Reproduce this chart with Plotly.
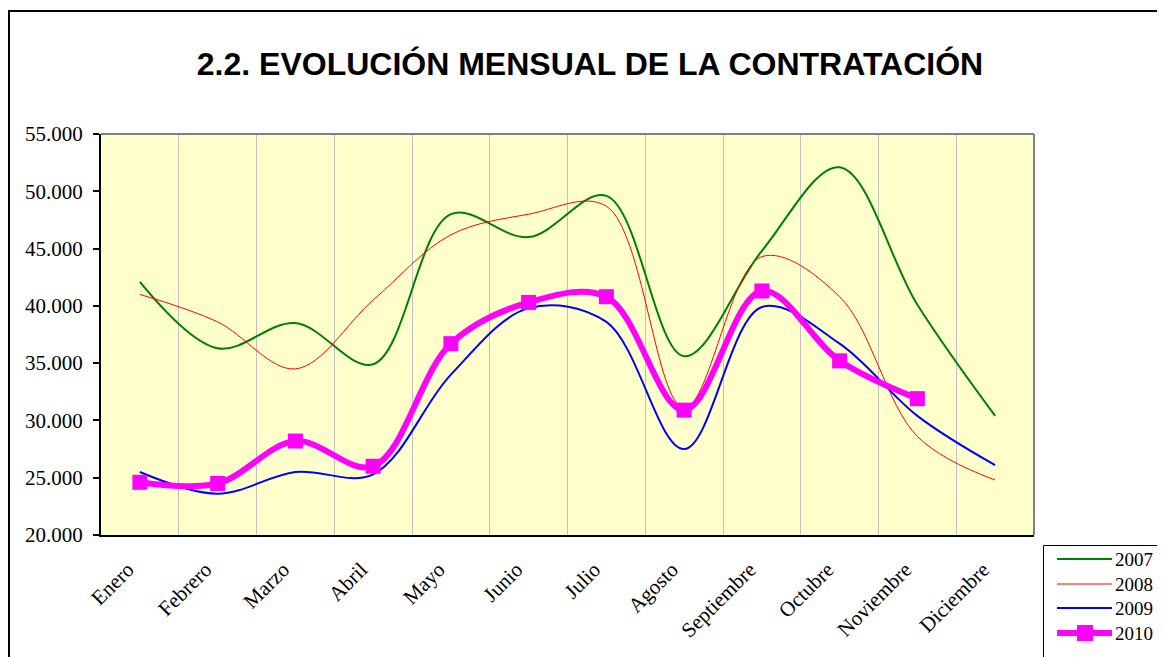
import plotly.graph_objects as go

months = ["Enero", "Febrero", "Marzo", "Abril", "Mayo", "Junio", "Julio",
          "Agosto", "Septiembre", "Octubre", "Noviembre", "Diciembre"]
y2007 = [42100, 36300, 38500, 34900, 48000, 46000, 49600, 35600, 44800, 52100, 40100, 30400]
y2008 = [41000, 38600, 34500, 40500, 46200, 48000, 48700, 31100, 44300, 40800, 28600, 24800]
y2009 = [25500, 23600, 25500, 25300, 34000, 39800, 38600, 27500, 39900, 36700, 30400, 26100]
y2010 = [24600, 24500, 28200, 26000, 36700, 40300, 40800, 30900, 41300, 35200, 31900]
series_names = ["2007", "2008", "2009", "2010"]
series_colors = ["#008000", "#FF0000", "#0000FF", "#FF00FF"]
series_widths = [2, 1, 2, 6]

fig = go.Figure()
for name, ys, col, w in zip(series_names, [y2007, y2008, y2009, y2010], series_colors, series_widths):
    is_2010 = name == "2010"
    fig.add_trace(go.Scatter(
        x=months[:len(ys)], y=ys, name=name,
        mode="lines+markers" if is_2010 else "lines",
        line=dict(color=col, width=w, shape="spline", smoothing=1),
        marker=dict(symbol="square", size=15, color=col) if is_2010 else None,
        showlegend=False))

OFF = 8  # page body margin
W, H = 1165 - OFF, 657 - OFF
L, T = 101 - OFF, 134 - OFF
R = W - (1034 - OFF)
B = H - (535 - OFF)
pw, ph = W - L - R, H - T - B


def px_x(x):
    return (x - OFF - L) / pw


def px_y(y):
    return (H - B - (y - OFF)) / ph


serif = "Liberation Serif, Times New Roman, serif"

shapes = [
    dict(type="line", xref="paper", yref="paper", x0=0, x1=1, y0=1, y1=1,
         line=dict(color="#808080", width=2)),
    dict(type="line", xref="paper", yref="paper", x0=1, x1=1, y0=0, y1=1,
         line=dict(color="#808080", width=2)),
    dict(type="rect", xref="paper", yref="paper",
         x0=px_x(9), x1=px_x(1200), y0=px_y(700), y1=px_y(11),
         line=dict(color="black", width=2), fillcolor="rgba(0,0,0,0)", layer="below"),
    # legend box
    dict(type="rect", xref="paper", yref="paper",
         x0=px_x(1043.5), x1=px_x(1200), y0=px_y(700), y1=px_y(545.5),
         line=dict(color="black", width=1), fillcolor="white"),
]
annotations = []
leg_y = [559, 584, 608, 633]
for name, col, w, yy in zip(series_names, series_colors, series_widths, leg_y):
    shapes.append(dict(type="line", xref="paper", yref="paper",
                       x0=px_x(1057), x1=px_x(1112), y0=px_y(yy), y1=px_y(yy),
                       line=dict(color=col, width=w)))
    if name == "2010":
        shapes.append(dict(type="rect", xref="paper", yref="paper",
                           x0=px_x(1077), x1=px_x(1093), y0=px_y(yy + 8), y1=px_y(yy - 8),
                           line=dict(width=0), fillcolor=col))
    annotations.append(dict(text=name, xref="paper", yref="paper",
                            x=px_x(1113), y=px_y(yy), xanchor="left", yanchor="middle",
                            showarrow=False,
                            font=dict(family=serif, size=19, color="black")))

fig.update_layout(
    width=W, height=H,
    margin=dict(l=L, r=R, t=T, b=B, autoexpand=False),
    paper_bgcolor="white",
    plot_bgcolor="#FFFFCC",
    title=dict(text="<b>2.2. EVOLUCIÓN MENSUAL DE LA CONTRATACIÓN</b>",
               font=dict(family="Liberation Sans, Arial", size=32, color="black"),
               x=(590 - OFF) / W, xanchor="center", xref="container",
               y=1 - (64 - OFF) / H, yanchor="middle", yref="container"),
    xaxis=dict(type="category", range=[-0.5, 11.5], tickson="boundaries",
               showgrid=True, gridcolor="#C0C0C0", gridwidth=1,
               ticks="", tickangle=-45,
               tickfont=dict(family=serif, size=21, color="black"),
               ticklabelshift=-12, ticklabelstandoff=12,
               showline=True, linecolor="black", linewidth=2, mirror=False,
               zeroline=False, fixedrange=True),
    yaxis=dict(range=[20000, 55000], tickvals=list(range(20000, 55001, 5000)),
               ticktext=[f"{v//1000}.000" for v in range(20000, 55001, 5000)],
               showgrid=False, ticks="outside", ticklen=6, tickcolor="black", tickwidth=2,
               tickfont=dict(family=serif, size=21, color="black"),
               ticklabelstandoff=6,
               showline=True, linecolor="black", linewidth=2, zeroline=False, fixedrange=True),
    showlegend=False,
    shapes=shapes,
    annotations=annotations,
)

fig.write_html("out.html")
